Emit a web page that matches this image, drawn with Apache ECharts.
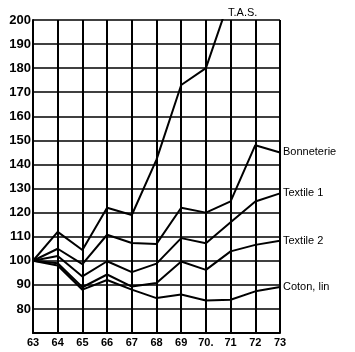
<!DOCTYPE html>
<html>
<head>
<meta charset="utf-8">
<script src="https://cdn.jsdelivr.net/npm/echarts@6/dist/echarts.min.js"></script>
<style>
  html, body { margin: 0; padding: 0; background: #fff; }
  #chart { width: 355px; height: 352px; }
</style>
</head>
<body>
<div id="chart"></div>
<script>
// années (axe x)
const years = ["63", "64", "65", "66", "67", "68", "69", "70.", "71", "72", "73"];
// indices (base 100 en 1963)
const tas = [100, 112, 104.5, 122, 119, 142, 173, 180, 210, null, null];
const bonneterie = [100, 105, 98.6, 110.8, 107.4, 107, 122, 120, 124.7, 148, 145];
const textile1 = [100, 102, 93.5, 99.8, 95.3, 98.8, 109.4, 107.3, 116, 124.6, 128];
const textile2 = [100, 99, 89, 94.3, 89.3, 90.8, 99.7, 96.2, 103.9, 106.6, 108.3];
const coton = [100, 98, 88, 92, 88, 84.5, 86, 83.5, 83.8, 87.3, 89.1];

const chart = echarts.init(document.getElementById("chart"));

const lineStyle = { color: "#000", width: 2 };
const endLabel = {
  show: true,
  formatter: "{a}",
  color: "#000",
  fontSize: 11,
  fontFamily: "Liberation Sans",
  distance: 3
};

const mkSeries = (name, data, label) => ({
  name: name,
  type: "line",
  data: data,
  symbol: "none",
  clip: true,
  lineStyle: lineStyle,
  endLabel: label ? endLabel : { show: false },
  animation: false
});

chart.setOption({
  backgroundColor: "#fff",
  animation: false,
  grid: { left: 33, right: 75, top: 20, bottom: 19 },
  xAxis: {
    type: "category",
    boundaryGap: false,
    data: years,
    axisLine: { lineStyle: { color: "#000", width: 2 } },
    axisTick: { show: false },
    axisLabel: {
      color: "#000",
      fontSize: 11,
      fontWeight: "bold",
      fontFamily: "Liberation Sans",
      margin: 4
    },
    splitLine: { show: true, lineStyle: { color: "#000", width: 2 } }
  },
  yAxis: {
    type: "value",
    min: 70,
    max: 200,
    interval: 10,
    axisLine: { show: true, lineStyle: { color: "#000", width: 2 } },
    axisTick: { show: false },
    axisLabel: {
      color: "#000",
      fontSize: 13,
      fontWeight: "bold",
      fontFamily: "Liberation Sans",
      margin: 2,
      formatter: (v) => (v === 70 ? "" : String(v))
    },
    splitLine: { show: true, lineStyle: { color: "#000", width: 1.6 } }
  },
  graphic: [
    {
      type: "text",
      left: 228,
      top: 7,
      style: {
        text: "T.A.S.",
        fill: "#000",
        font: "11px 'Liberation Sans'"
      }
    }
  ],
  series: [
    mkSeries("T.A.S", tas, false),
    mkSeries("Bonneterie", bonneterie, true),
    mkSeries("Textile 1", textile1, true),
    mkSeries("Textile 2", textile2, true),
    mkSeries("Coton, lin", coton, true)
  ]
});
</script>
</body>
</html>
